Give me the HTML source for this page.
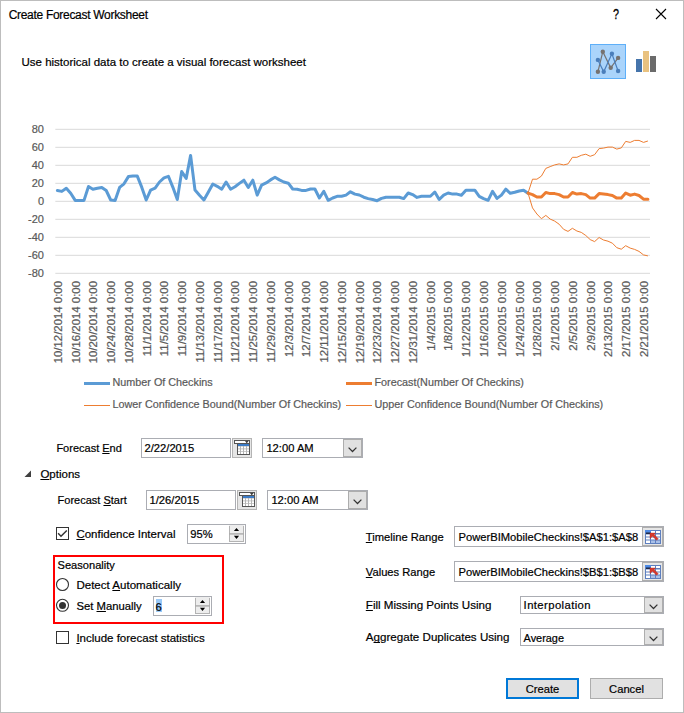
<!DOCTYPE html>
<html><head><meta charset="utf-8"><style>
*{margin:0;padding:0;box-sizing:border-box}
html,body{width:684px;height:713px;overflow:hidden;background:#fff}
body{position:relative;font-family:"Liberation Sans",sans-serif;color:#000}
.frame{position:absolute;left:0;top:0;width:684px;height:713px;border:1px solid #bdbdbd}
.t{position:absolute;white-space:nowrap;-webkit-text-stroke:0.2px #000}
.chart{position:absolute;left:0;top:0}
.box{position:absolute;background:#fff;border:1px solid #abadb3}
.btn{position:absolute;background:#e1e1e1;border:1px solid #adadad}
u{text-decoration:underline;text-underline-offset:1px;text-decoration-skip-ink:none}
svg{display:block}
</style></head><body>
<div class="frame"></div>
<div class="t" style="left:8.7px;top:8.6px;font-size:12px;line-height:12px;"><span style="letter-spacing:-0.3px">Create Forecast Worksheet</span></div>
<div class="t" style="left:613.4px;top:6.5px;font-size:13.8px;line-height:16px;transform:scaleX(0.78);transform-origin:0 0;-webkit-text-stroke:0.3px #000">?</div>
<svg style="position:absolute;left:655px;top:8px" width="12" height="12" viewBox="0 0 12 12"><path d="M1 1L11 11M11 1L1 11" stroke="#000" stroke-width="1.1"/></svg>
<div class="t" style="left:21.5px;top:56.9px;font-size:11.5px;line-height:11.5px;">Use historical data to create a visual forecast worksheet</div>
<div style="position:absolute;left:590px;top:44px;width:36px;height:35px;background:#aad4fb;border:1px solid #5eaff8"></div>
<svg style="position:absolute;left:590px;top:44px" width="36" height="35" viewBox="590 44 36 35">
<polyline points="597.9,71.8 602.8,51.7 610.7,67.8 618.1,57.9" fill="none" stroke="#767270" stroke-width="1.2"/>
<polyline points="597.9,59.9 603.7,71.8 611.9,53.8 618.1,71" fill="none" stroke="#4a7ebb" stroke-width="1.2"/>
<g fill="#767270"><circle cx="597.9" cy="71.8" r="2.2"/><circle cx="602.8" cy="51.7" r="2.2"/><circle cx="610.7" cy="67.8" r="2.2"/><circle cx="618.1" cy="57.9" r="2.2"/></g>
<g fill="#4a7ebb"><circle cx="597.9" cy="59.9" r="2.2"/><circle cx="603.7" cy="71.8" r="2.2"/><circle cx="611.9" cy="53.8" r="2.2"/><circle cx="618.1" cy="71" r="2.2"/></g>
</svg>
<div style="position:absolute;left:636px;top:59px;width:6px;height:13px;background:#4574ab"></div>
<div style="position:absolute;left:643px;top:51px;width:6px;height:21px;background:#e9c280"></div>
<div style="position:absolute;left:650px;top:56px;width:6px;height:16px;background:#6b6b6b"></div>
<svg class="chart" width="684" height="420" viewBox="0 0 684 420">
<g stroke="#d9d9d9" stroke-width="1"><line x1="55.3" x2="650" y1="129.3" y2="129.3"/><line x1="55.3" x2="650" y1="147.3" y2="147.3"/><line x1="55.3" x2="650" y1="165.3" y2="165.3"/><line x1="55.3" x2="650" y1="183.3" y2="183.3"/><line x1="55.3" x2="650" y1="201.3" y2="201.3"/><line x1="55.3" x2="650" y1="219.3" y2="219.3"/><line x1="55.3" x2="650" y1="237.3" y2="237.3"/><line x1="55.3" x2="650" y1="255.3" y2="255.3"/><line x1="55.3" x2="650" y1="273.3" y2="273.3"/></g>
<g font-family="Liberation Sans" font-size="11" fill="#595959" stroke="#595959" stroke-width="0.2" text-anchor="end"><text x="44" y="133.2">80</text><text x="44" y="151.2">60</text><text x="44" y="169.2">40</text><text x="44" y="187.2">20</text><text x="44" y="205.2">0</text><text x="44" y="223.2">-20</text><text x="44" y="241.2">-40</text><text x="44" y="259.2">-60</text><text x="44" y="277.2">-80</text></g>
<g font-family="Liberation Sans" font-size="11.4" fill="#595959" stroke="#595959" stroke-width="0.2" text-anchor="end"><text transform="translate(61.7,281) rotate(-90)">10/12/2014 0:00</text><text transform="translate(79.5,281) rotate(-90)">10/16/2014 0:00</text><text transform="translate(97.2,281) rotate(-90)">10/20/2014 0:00</text><text transform="translate(115.0,281) rotate(-90)">10/24/2014 0:00</text><text transform="translate(132.7,281) rotate(-90)">10/28/2014 0:00</text><text transform="translate(150.5,281) rotate(-90)">11/1/2014 0:00</text><text transform="translate(168.3,281) rotate(-90)">11/5/2014 0:00</text><text transform="translate(186.0,281) rotate(-90)">11/9/2014 0:00</text><text transform="translate(203.8,281) rotate(-90)">11/13/2014 0:00</text><text transform="translate(221.5,281) rotate(-90)">11/17/2014 0:00</text><text transform="translate(239.3,281) rotate(-90)">11/21/2014 0:00</text><text transform="translate(257.1,281) rotate(-90)">11/25/2014 0:00</text><text transform="translate(274.8,281) rotate(-90)">11/29/2014 0:00</text><text transform="translate(292.6,281) rotate(-90)">12/3/2014 0:00</text><text transform="translate(310.3,281) rotate(-90)">12/7/2014 0:00</text><text transform="translate(328.1,281) rotate(-90)">12/11/2014 0:00</text><text transform="translate(345.9,281) rotate(-90)">12/15/2014 0:00</text><text transform="translate(363.6,281) rotate(-90)">12/19/2014 0:00</text><text transform="translate(381.4,281) rotate(-90)">12/23/2014 0:00</text><text transform="translate(399.1,281) rotate(-90)">12/27/2014 0:00</text><text transform="translate(416.9,281) rotate(-90)">12/31/2014 0:00</text><text transform="translate(434.7,281) rotate(-90)">1/4/2015 0:00</text><text transform="translate(452.4,281) rotate(-90)">1/8/2015 0:00</text><text transform="translate(470.2,281) rotate(-90)">1/12/2015 0:00</text><text transform="translate(487.9,281) rotate(-90)">1/16/2015 0:00</text><text transform="translate(505.7,281) rotate(-90)">1/20/2015 0:00</text><text transform="translate(523.5,281) rotate(-90)">1/24/2015 0:00</text><text transform="translate(541.2,281) rotate(-90)">1/28/2015 0:00</text><text transform="translate(559.0,281) rotate(-90)">2/1/2015 0:00</text><text transform="translate(576.7,281) rotate(-90)">2/5/2015 0:00</text><text transform="translate(594.5,281) rotate(-90)">2/9/2015 0:00</text><text transform="translate(612.3,281) rotate(-90)">2/13/2015 0:00</text><text transform="translate(630.0,281) rotate(-90)">2/17/2015 0:00</text><text transform="translate(647.8,281) rotate(-90)">2/21/2015 0:00</text></g>
<polyline fill="none" stroke="#ed7d31" stroke-width="1" stroke-linejoin="round" points="528.0,193.1 532.5,179.2 536.9,179.2 541.4,176.1 545.8,168.4 550.2,166.6 554.7,164.9 559.1,163.9 563.6,164.9 568.0,163.9 572.4,157.3 576.9,157.3 581.3,155.3 585.8,154.2 590.2,156.3 594.6,154.7 599.1,148.6 603.5,148.1 608.0,147.1 612.4,147.1 616.8,149.1 621.3,147.9 625.7,141.4 630.2,142.4 634.6,140.4 639.0,140.4 643.5,142.4 647.9,141.0"/>
<polyline fill="none" stroke="#ed7d31" stroke-width="1" stroke-linejoin="round" points="528.0,193.1 532.5,207.9 536.9,214.0 541.4,218.7 545.8,215.4 550.2,219.1 554.7,221.1 559.1,224.2 563.6,229.3 568.0,231.4 572.4,228.3 576.9,231.0 581.3,232.4 585.8,235.5 590.2,239.6 594.6,241.6 599.1,237.5 603.5,240.0 608.0,241.2 612.4,243.2 616.8,247.7 621.3,249.2 625.7,245.7 630.2,248.1 634.6,249.4 639.0,251.4 643.5,254.9 647.9,255.9"/>
<polyline fill="none" stroke="#5b9bd5" stroke-width="3" stroke-linejoin="round" stroke-linecap="round" points="57.4,190.5 61.8,191.4 66.3,188.2 70.7,193.2 75.2,200.4 79.6,200.4 84.0,200.4 88.5,186.5 92.9,189.2 97.4,188.2 101.8,187.4 106.2,190.5 110.7,200.0 115.1,200.4 119.6,187.4 124.0,183.8 128.4,176.6 132.9,176.1 137.3,176.1 141.8,187.4 146.2,200.0 150.6,190.1 155.1,188.2 159.5,182.0 164.0,177.9 168.4,176.3 172.8,187.1 177.3,199.5 181.7,171.6 186.2,178.4 190.6,155.4 195.0,190.1 199.5,195.3 203.9,200.0 208.4,191.9 212.8,184.0 217.2,186.3 221.7,189.2 226.1,182.0 230.6,189.2 235.0,186.7 239.4,183.4 243.9,180.2 248.3,187.5 252.8,180.2 257.2,195.1 261.6,185.1 266.1,182.9 270.5,179.9 275.0,177.3 279.4,179.9 283.8,182.0 288.3,183.2 292.7,189.0 297.2,189.2 301.6,190.4 306.0,190.4 310.5,189.0 314.9,189.0 319.4,198.0 323.8,191.3 328.2,200.3 332.7,198.0 337.1,196.3 341.6,196.3 346.0,195.1 350.4,191.8 354.9,194.1 359.3,195.0 363.8,197.2 368.2,198.6 372.6,199.5 377.1,200.7 381.5,198.4 386.0,197.2 390.4,197.2 394.8,197.2 399.3,197.2 403.7,198.6 408.2,193.0 412.6,194.6 417.0,197.4 421.5,196.3 425.9,196.3 430.4,196.3 434.8,192.0 439.2,199.5 443.7,195.1 448.1,193.0 452.6,194.1 457.0,194.1 461.4,195.3 465.9,190.2 470.3,190.2 474.8,190.2 479.2,196.3 483.6,198.6 488.1,200.3 492.5,191.3 497.0,198.4 501.4,195.1 505.8,189.2 510.3,193.3 514.7,192.3 519.2,191.0 523.6,190.2 528.0,193.2"/>
<polyline fill="none" stroke="#ed7d31" stroke-width="3" stroke-linejoin="round" stroke-linecap="round" points="528.0,193.1 532.5,194.6 536.9,197.0 541.4,197.0 545.8,192.5 550.2,193.6 554.7,193.6 559.1,194.6 563.6,197.0 568.0,197.0 572.4,192.5 576.9,194.1 581.3,193.6 585.8,194.6 590.2,198.1 594.6,198.1 599.1,193.6 603.5,194.1 608.0,194.6 612.4,195.5 616.8,198.1 621.3,198.1 625.7,193.1 630.2,195.2 634.6,194.1 639.0,195.5 643.5,199.2 647.9,199.2"/>
<line x1="84" x2="110" y1="383.5" y2="383.5" stroke="#5b9bd5" stroke-width="3"/>
<line x1="346" x2="372" y1="383.5" y2="383.5" stroke="#ed7d31" stroke-width="3"/>
<line x1="84" x2="110" y1="405.5" y2="405.5" stroke="#ed7d31" stroke-width="1"/>
<line x1="346" x2="372" y1="405.5" y2="405.5" stroke="#ed7d31" stroke-width="1"/>
<g font-family="Liberation Sans" font-size="10.8" fill="#595959" stroke="#595959" stroke-width="0.2">
<text x="112.5" y="386.2">Number Of Checkins</text>
<text x="374.5" y="386.2">Forecast(Number Of Checkins)</text>
<text x="112.5" y="408.3">Lower Confidence Bound(Number Of Checkins)</text>
<text x="374.5" y="408.3">Upper Confidence Bound(Number Of Checkins)</text>
</g>
</svg>
<div class="t" style="left:56.4px;top:442.9px;font-size:11.0px;line-height:11.0px;">Forecast <u>E</u>nd</div>
<div class="box" style="left:141px;top:438px;width:90px;height:20px"></div>
<div class="t" style="left:144.5px;top:443.2px;font-size:11.2px;line-height:11.2px;">2/22/2015</div>
<div style="position:absolute;left:232px;top:438px"><svg width="20" height="20" viewBox="0 0 20 20"><rect x="0.5" y="0.5" width="19" height="19" fill="#e6e6e6" stroke="#b4b4b4"/><rect x="2.5" y="2.5" width="15" height="3" fill="#fff" stroke="#555"/><path d="M13 3.2h3.6l-1.8 1.8z" fill="#000"/><rect x="5.5" y="5.5" width="12" height="11" fill="#b5b5b5" stroke="#555"/><rect x="6" y="6" width="11" height="2" fill="#3c7bc6"/><g fill="#fff"><rect x="6" y="8.5" width="2" height="2"/><rect x="9" y="8.5" width="2" height="2"/><rect x="12" y="8.5" width="2" height="2"/><rect x="15" y="8.5" width="2" height="2"/><rect x="6" y="11.3" width="2" height="2"/><rect x="9" y="11.3" width="2" height="2"/><rect x="12" y="11.3" width="2" height="2"/><rect x="15" y="11.3" width="2" height="2"/><rect x="6" y="14" width="2" height="2"/><rect x="9" y="14" width="2" height="2"/><rect x="12" y="14" width="2" height="2"/><rect x="15" y="14" width="2" height="2"/></g></svg></div>
<div class="box" style="left:262px;top:438px;width:101px;height:20px"></div><div class="t" style="left:266.4px;top:443.2px;font-size:11.2px;line-height:11.2px;">12:00 AM</div><div class="btn" style="left:343px;top:439px;width:19px;height:18px"></div><svg style="position:absolute;left:348px;top:446.7px" width="9" height="6" viewBox="0 0 9 6"><path d="M0.6 0.6 L4.5 4.5 L8.4 0.6" fill="none" stroke="#333" stroke-width="1.25"/></svg>

<svg style="position:absolute;left:24px;top:470px" width="8" height="8" viewBox="0 0 8 8"><path d="M7 0.5 L7 7 L0.5 7 Z" fill="#404040"/></svg>
<div class="t" style="left:40.4px;top:469.2px;font-size:11.5px;line-height:11.5px;"><u>O</u>ptions</div>

<div class="t" style="left:57.6px;top:495.2px;font-size:11.0px;line-height:11.0px;">Forecast <u>S</u>tart</div>
<div class="box" style="left:146px;top:490px;width:90px;height:20px"></div>
<div class="t" style="left:149.5px;top:495.2px;font-size:11.2px;line-height:11.2px;">1/26/2015</div>
<div style="position:absolute;left:237px;top:490px"><svg width="20" height="20" viewBox="0 0 20 20"><rect x="0.5" y="0.5" width="19" height="19" fill="#e6e6e6" stroke="#b4b4b4"/><rect x="2.5" y="2.5" width="15" height="3" fill="#fff" stroke="#555"/><path d="M13 3.2h3.6l-1.8 1.8z" fill="#000"/><rect x="5.5" y="5.5" width="12" height="11" fill="#b5b5b5" stroke="#555"/><rect x="6" y="6" width="11" height="2" fill="#3c7bc6"/><g fill="#fff"><rect x="6" y="8.5" width="2" height="2"/><rect x="9" y="8.5" width="2" height="2"/><rect x="12" y="8.5" width="2" height="2"/><rect x="15" y="8.5" width="2" height="2"/><rect x="6" y="11.3" width="2" height="2"/><rect x="9" y="11.3" width="2" height="2"/><rect x="12" y="11.3" width="2" height="2"/><rect x="15" y="11.3" width="2" height="2"/><rect x="6" y="14" width="2" height="2"/><rect x="9" y="14" width="2" height="2"/><rect x="12" y="14" width="2" height="2"/><rect x="15" y="14" width="2" height="2"/></g></svg></div>
<div class="box" style="left:267px;top:490px;width:101px;height:20px"></div><div class="t" style="left:271.4px;top:495.2px;font-size:11.2px;line-height:11.2px;">12:00 AM</div><div class="btn" style="left:348px;top:491px;width:19px;height:18px"></div><svg style="position:absolute;left:353px;top:498.7px" width="9" height="6" viewBox="0 0 9 6"><path d="M0.6 0.6 L4.5 4.5 L8.4 0.6" fill="none" stroke="#333" stroke-width="1.25"/></svg>

<div style="position:absolute;left:56px;top:527px;width:13px;height:13px;border:1px solid #333;background:#fff"></div><svg style="position:absolute;left:56px;top:527px" width="13" height="13" viewBox="0 0 13 13"><path d="M2.1 6.2 L5 9.2 L10.8 3.4" fill="none" stroke="#333" stroke-width="1.45"/></svg>
<div class="t" style="left:76.4px;top:529.3px;font-size:11.5px;line-height:11.5px;"><u>C</u>onfidence Interval</div>
<div class="box" style="left:187px;top:524px;width:59px;height:20px"></div><svg style="position:absolute;left:229px;top:525px" width="15" height="17" viewBox="0 0 15 17"><rect x="0" y="0" width="15" height="17" fill="#ededed"/><rect x="0" y="1" width="1" height="16" fill="#b3b3b3"/><rect x="14" y="1" width="1" height="16" fill="#b3b3b3"/><rect x="0" y="16" width="15" height="1" fill="#b3b3b3"/><rect x="0" y="8.2" width="15" height="1.4" fill="#ababab"/><path d="M4.9 6.1 L10.1 6.1 L7.5 2.9 Z M4.9 10.8 L10.1 10.8 L7.5 14 Z" fill="#000"/></svg>
<div class="t" style="left:190.2px;top:529.2px;font-size:11.2px;line-height:11.2px;">95%</div>

<div style="position:absolute;left:53px;top:555px;width:171px;height:69px;border:2px solid #ff0000"></div>
<div class="t" style="left:57.5px;top:560.1px;font-size:11.1px;line-height:11.1px;">Seasonality</div>
<svg style="position:absolute;left:55px;top:577px" width="15" height="36" viewBox="0 0 15 36"><circle cx="7.5" cy="7.5" r="6" fill="#fff" stroke="#333" stroke-width="1.1"/><circle cx="7.5" cy="28.3" r="6" fill="#fff" stroke="#333" stroke-width="1.1"/><circle cx="7.5" cy="28.4" r="3.5" fill="#333"/></svg>
<div class="t" style="left:76.4px;top:579.6px;font-size:11.55px;line-height:11.55px;">Detect <u>A</u>utomatically</div>
<div class="t" style="left:76.4px;top:600.7px;font-size:11.3px;line-height:11.3px;">Set <u>M</u>anually</div>
<div class="box" style="left:153px;top:596px;width:59px;height:20px"></div><svg style="position:absolute;left:195px;top:597px" width="15" height="17" viewBox="0 0 15 17"><rect x="0" y="0" width="15" height="17" fill="#ededed"/><rect x="0" y="1" width="1" height="16" fill="#b3b3b3"/><rect x="14" y="1" width="1" height="16" fill="#b3b3b3"/><rect x="0" y="16" width="15" height="1" fill="#b3b3b3"/><rect x="0" y="8.2" width="15" height="1.4" fill="#ababab"/><path d="M4.9 6.1 L10.1 6.1 L7.5 2.9 Z M4.9 10.8 L10.1 10.8 L7.5 14 Z" fill="#000"/></svg>
<div style="position:absolute;left:156px;top:599px;width:6px;height:13px;background:#99c9f7"></div>
<div class="t" style="left:155.5px;top:601.5px;font-size:11.2px;line-height:11.2px;">6</div>

<div style="position:absolute;left:56px;top:631px;width:13px;height:13px;border:1px solid #333;background:#fff"></div>
<div class="t" style="left:76.4px;top:633.2px;font-size:11.5px;line-height:11.5px;"><u>I</u>nclude forecast statistics</div>

<div class="t" style="left:365.8px;top:532.4px;font-size:11.2px;line-height:11.2px;"><u>T</u>imeline Range</div>
<div class="box" style="left:454px;top:526px;width:210px;height:21px"></div><div class="t" style="left:458.5px;top:532.0px;font-size:11.2px;line-height:11.2px;">PowerBIMobileCheckins!$A$1:$A$8</div><div class="btn" style="left:642px;top:527px;width:21px;height:19px;background:#e6e6e6"></div><div style="position:absolute;left:645px;top:529.5px"><svg width="16" height="14" viewBox="0 0 16 14"><rect width="16" height="14" fill="#5d7fbf"/><g fill="#fff"><rect x="6" y="1" width="4" height="2"/><rect x="11" y="1" width="4" height="2"/><rect x="1" y="4.5" width="4" height="2"/><rect x="6" y="4.5" width="4" height="2"/><rect x="11" y="4.5" width="4" height="2"/><rect x="1" y="7.5" width="4" height="2"/><rect x="6" y="7.5" width="4" height="2"/><rect x="11" y="7.5" width="4" height="2"/><rect x="1" y="10.5" width="4" height="2.5"/></g><g fill="#a9c0e8"><rect x="6" y="10.5" width="4" height="2.5"/><rect x="11" y="10.5" width="4" height="2.5"/></g><rect x="0" y="0" width="6" height="2.5" fill="#4d8ae6"/><rect x="1" y="2.5" width="4.5" height="1.5" fill="#1d2b4a"/><path d="M5 3 L10.6 3 L9.1 4.6 L13.2 8.7 L11.6 10.3 L7.5 6.2 L5 8.6 Z" fill="#d7392c" stroke="#b02518" stroke-width="0.4"/></svg></div>

<div class="t" style="left:365.8px;top:566.7px;font-size:11.2px;line-height:11.2px;"><u>V</u>alues Range</div>
<div class="box" style="left:454px;top:561px;width:210px;height:21px"></div><div class="t" style="left:458.5px;top:566.5px;font-size:11.2px;line-height:11.2px;">PowerBIMobileCheckins!$B$1:$B$8</div><div class="btn" style="left:642px;top:562px;width:21px;height:19px;background:#e6e6e6"></div><div style="position:absolute;left:645px;top:564.5px"><svg width="16" height="14" viewBox="0 0 16 14"><rect width="16" height="14" fill="#5d7fbf"/><g fill="#fff"><rect x="6" y="1" width="4" height="2"/><rect x="11" y="1" width="4" height="2"/><rect x="1" y="4.5" width="4" height="2"/><rect x="6" y="4.5" width="4" height="2"/><rect x="11" y="4.5" width="4" height="2"/><rect x="1" y="7.5" width="4" height="2"/><rect x="6" y="7.5" width="4" height="2"/><rect x="11" y="7.5" width="4" height="2"/><rect x="1" y="10.5" width="4" height="2.5"/></g><g fill="#a9c0e8"><rect x="6" y="10.5" width="4" height="2.5"/><rect x="11" y="10.5" width="4" height="2.5"/></g><rect x="0" y="0" width="6" height="2.5" fill="#4d8ae6"/><rect x="1" y="2.5" width="4.5" height="1.5" fill="#1d2b4a"/><path d="M5 3 L10.6 3 L9.1 4.6 L13.2 8.7 L11.6 10.3 L7.5 6.2 L5 8.6 Z" fill="#d7392c" stroke="#b02518" stroke-width="0.4"/></svg></div>

<div class="t" style="left:365.8px;top:599.1px;font-size:11.6px;line-height:11.6px;"><u>F</u>ill Missing Points Using</div>
<div class="box" style="left:520px;top:596px;width:144px;height:18px"></div><div class="t" style="left:523.6px;top:600.2px;font-size:11.3px;line-height:11.3px;"><span style="letter-spacing:0.4px">Interpolation</span></div><div class="btn" style="left:644px;top:597px;width:19px;height:16px"></div><svg style="position:absolute;left:649px;top:603.7px" width="9" height="6" viewBox="0 0 9 6"><path d="M0.6 0.6 L4.5 4.5 L8.4 0.6" fill="none" stroke="#333" stroke-width="1.25"/></svg>

<div class="t" style="left:365.8px;top:631.3px;font-size:11.6px;line-height:11.6px;">A<u>g</u>gregate Duplicates Using</div>
<div class="box" style="left:520px;top:628px;width:144px;height:18px"></div><div class="t" style="left:523.6px;top:632.6px;font-size:10.9px;line-height:10.9px;">Average</div><div class="btn" style="left:644px;top:629px;width:19px;height:16px"></div><svg style="position:absolute;left:649px;top:635.7px" width="9" height="6" viewBox="0 0 9 6"><path d="M0.6 0.6 L4.5 4.5 L8.4 0.6" fill="none" stroke="#333" stroke-width="1.25"/></svg>

<div class="btn" style="left:506px;top:678px;width:73px;height:21px;border:2px solid #0078d7"></div>
<div class="t" style="left:506px;top:679px;width:73px;height:21px;line-height:21px;text-align:center;font-size:11.2px">Create</div>
<div class="btn" style="left:590px;top:678px;width:73px;height:21px"></div>
<div class="t" style="left:590px;top:679px;width:73px;height:21px;line-height:21px;text-align:center;font-size:11.2px">Cancel</div>
</body></html>
